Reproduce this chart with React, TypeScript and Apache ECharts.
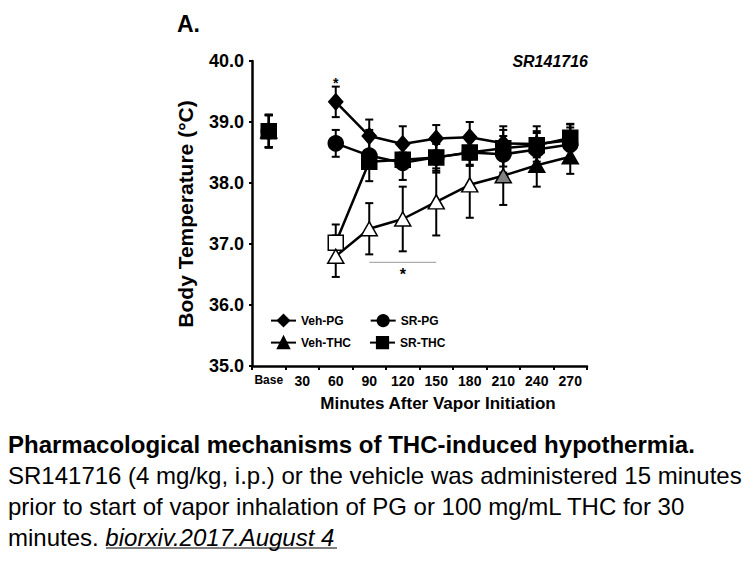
import React, { useEffect, useRef } from "react";
import * as echarts from "echarts";

const categories = ["Base", "30", "60", "90", "120", "150", "180", "210", "240", "270"];
const yTicks = [35, 36, 37, 38, 39, 40];

const vehPG = [38.85, null, 39.33, 38.77, 38.64, 38.73, 38.75, 38.65, 38.64, 38.7];
const vehPGErr = [0.26, null, 0.25, 0.27, 0.29, 0.22, 0.25, 0.28, 0.29, 0.27];
const srPG = [38.85, null, 38.65, 38.45, 38.33, 38.42, 38.5, 38.47, 38.55, 38.63];
const srPGErr = [0.26, null, 0.22, 0.42, 0.28, 0.25, 0.22, 0.3, 0.3, 0.28];
const vehTHC = [38.85, null, 36.8, 37.25, 37.41, 37.69, 37.97, 38.12, 38.29, 38.43];
const vehTHCErr = [0.27, null, 0.34, 0.42, 0.53, 0.55, 0.54, 0.48, 0.35, 0.28];
const vehTHCFill = ["#000", null, "#fff", "#fff", "#fff", "#fff", "#fff", "#808080", "#000", "#000"];
const srTHC = [38.85, null, 37.02, 38.35, 38.38, 38.42, 38.5, 38.57, 38.62, 38.74];
const srTHCErr = [0.27, null, 0.3, 0.1, 0.12, 0.22, 0.2, 0.3, 0.2, 0.22];
const srTHCFill = ["#000", null, "#fff", "#000", "#000", "#000", "#000", "#000", "#000", "#000"];

const FONT = "'Liberation Sans', Arial, Helvetica, sans-serif";

function errSeries(name: string, vals: (number | null)[], errs: (number | null)[]) {
  const data: number[][] = [];
  vals.forEach((v, i) => {
    if (v != null && errs[i] != null) data.push([i, v, errs[i] as number]);
  });
  return {
    type: "custom",
    name: name + " err",
    silent: true,
    z: 1,
    encode: { x: 0, y: 1 },
    data,
    renderItem: (params: any, api: any) => {
      const x = api.value(0);
      const v = api.value(1);
      const e = api.value(2);
      const hi = api.coord([x, v + e]);
      const lo = api.coord([x, v - e]);
      const cap = 4;
      const st = { stroke: "#000", lineWidth: 2 };
      return {
        type: "group",
        children: [
          { type: "line", shape: { x1: hi[0], y1: hi[1], x2: lo[0], y2: lo[1] }, style: st },
          { type: "line", shape: { x1: hi[0] - cap, y1: hi[1], x2: hi[0] + cap, y2: hi[1] }, style: st },
          { type: "line", shape: { x1: lo[0] - cap, y1: lo[1], x2: lo[0] + cap, y2: lo[1] }, style: st },
        ],
      };
    },
  };
}

function lineSeries(name: string, vals: (number | null)[], symbol: string, size: any, fills?: (string | null)[]) {
  return {
    type: "line",
    name,
    z: 3,
    symbol,
    symbolSize: size,
    showAllSymbol: true,
    connectNulls: false,
    lineStyle: { color: "#000", width: 2.5 },
    itemStyle: { color: "#000", borderColor: "#000", borderWidth: 1.5 },
    data: vals.map((v, i) =>
      v == null ? "-" : fills && fills[i] ? { value: v, itemStyle: { color: fills[i] } } : v
    ),
  };
}

export default function App() {
  const ref = useRef<HTMLDivElement>(null);
  useEffect(() => {
    if (!ref.current) return;
    const chart = echarts.init(ref.current, null, { renderer: "svg" });
    const option: any = {
      animation: false,
      backgroundColor: "#fff",
      grid: { left: 252, top: 61, width: 335, height: 305, containLabel: false },
      xAxis: {
        type: "category",
        data: categories,
        boundaryGap: true,
        axisLine: { lineStyle: { color: "#000", width: 2.5 } },
        axisTick: { show: true, length: 4, lineStyle: { color: "#000", width: 2 } },
        axisLabel: {
          color: "#000",
          fontFamily: FONT,
          fontWeight: "bold",
          fontSize: 14,
          margin: 8,
          interval: 0,
          formatter: (v: string) => (v === "Base" ? "{s|Base}" : v),
          rich: { s: { fontSize: 12, fontWeight: "bold", fontFamily: FONT, color: "#000" } },
        },
        splitLine: { show: false },
      },
      yAxis: {
        type: "value",
        min: yTicks[0],
        max: yTicks[yTicks.length - 1],
        interval: 1,
        axisLine: { show: true, lineStyle: { color: "#000", width: 2.5 } },
        axisTick: { show: true, length: 3, lineStyle: { color: "#000", width: 2 } },
        axisLabel: {
          color: "#000",
          fontFamily: FONT,
          fontWeight: "bold",
          fontSize: 18,
          margin: 8,
          formatter: (v: number) => v.toFixed(1),
        },
        splitLine: { show: false },
      },
      legend: [
        {
          data: ["Veh-PG", "SR-PG"],
          left: 270,
          top: 314,
          padding: 0,
          itemWidth: 25,
          itemHeight: 14,
          itemGap: 26,
          textStyle: { color: "#000", fontFamily: FONT, fontWeight: "bold", fontSize: 12 },
        },
        {
          data: ["Veh-THC", "SR-THC"],
          left: 270,
          top: 336,
          padding: 0,
          itemWidth: 25,
          itemHeight: 14,
          itemGap: 18,
          textStyle: { color: "#000", fontFamily: FONT, fontWeight: "bold", fontSize: 12 },
        },
      ],
      series: [
        errSeries("Veh-PG", vehPG, vehPGErr),
        errSeries("SR-PG", srPG, srPGErr),
        errSeries("Veh-THC", vehTHC, vehTHCErr),
        errSeries("SR-THC", srTHC, srTHCErr),
        lineSeries("Veh-PG", vehPG, "diamond", [14, 16]),
        lineSeries("SR-PG", srPG, "circle", 15),
        lineSeries("SR-THC", srTHC, "rect", 15, srTHCFill),
        lineSeries("Veh-THC", vehTHC, "triangle", [16, 14], vehTHCFill),
      ],
    };
    chart.setOption(option);

    const p = (cat: string, val: number) => chart.convertToPixel({ xAxisIndex: 0, yAxisIndex: 0 }, [cat, val]) as number[];
    const star1 = p("60", 39.69);
    const lineL = p("90", 36.7);
    const lineR = p("150", 36.7);
    const star2 = p("120", 36.55);

    chart.setOption({
      graphic: [
        { type: "text", x: 177, y: 24, style: { text: "A.", font: `bold 23px ${FONT}`, fill: "#000", textVerticalAlign: "middle" } },
        { type: "text", x: 588, y: 61, style: { text: "SR141716", font: `italic bold 16px ${FONT}`, fill: "#000", textAlign: "right", textVerticalAlign: "middle" } },
        { type: "text", x: 185, y: 214, rotation: Math.PI / 2, style: { text: "Body Temperature (°C)", font: `bold 21px ${FONT}`, fill: "#000", textAlign: "center", textVerticalAlign: "middle" } },
        { type: "text", x: 438, y: 403, style: { text: "Minutes After Vapor Initiation", font: `bold 17px ${FONT}`, fill: "#000", textAlign: "center", textVerticalAlign: "middle" } },
        { type: "text", x: star1[0], y: star1[1] + 3, style: { text: "*", font: `bold 14px ${FONT}`, fill: "#000", textAlign: "center", textVerticalAlign: "middle" } },
        { type: "line", shape: { x1: lineL[0], y1: lineL[1], x2: lineR[0], y2: lineR[1] }, style: { stroke: "#999", lineWidth: 1 } },
        { type: "text", x: star2[0], y: star2[1] + 3, style: { text: "*", font: `bold 16px ${FONT}`, fill: "#000", textAlign: "center", textVerticalAlign: "middle" } },
        { type: "text", x: 8, y: 444, style: { text: "Pharmacological mechanisms of THC-induced hypothermia.", font: `bold 24px ${FONT}`, fill: "#000", textVerticalAlign: "middle" } },
        { type: "text", x: 8, y: 475, style: { text: "SR141716 (4 mg/kg, i.p.) or the vehicle was administered 15 minutes", font: `24px ${FONT}`, fill: "#000", textVerticalAlign: "middle" } },
        { type: "text", x: 8, y: 506, style: { text: "prior to start of vapor inhalation of PG or 100 mg/mL THC for 30", font: `24px ${FONT}`, fill: "#000", textVerticalAlign: "middle" } },
        {
          type: "text",
          x: 8,
          y: 537,
          style: {
            text: "{a|minutes. }{b|biorxiv.2017.August 4}",
            font: `24px ${FONT}`,
            fill: "#000",
            textVerticalAlign: "middle",
            rich: {
              a: { fontSize: 24, fontFamily: FONT, fill: "#000" },
              b: { fontSize: 24, fontFamily: FONT, fontStyle: "italic", fill: "#000" },
            },
          },
        },
        { type: "line", shape: { x1: 106, y1: 548, x2: 337, y2: 548 }, style: { stroke: "#000", lineWidth: 1.2 } },
      ],
    });
    return () => chart.dispose();
  }, []);
  return (
    <div
      ref={ref}
      style={{ position: "absolute", left: 0, top: 0, width: 756, height: 567, background: "#fff" }}
    />
  );
}
